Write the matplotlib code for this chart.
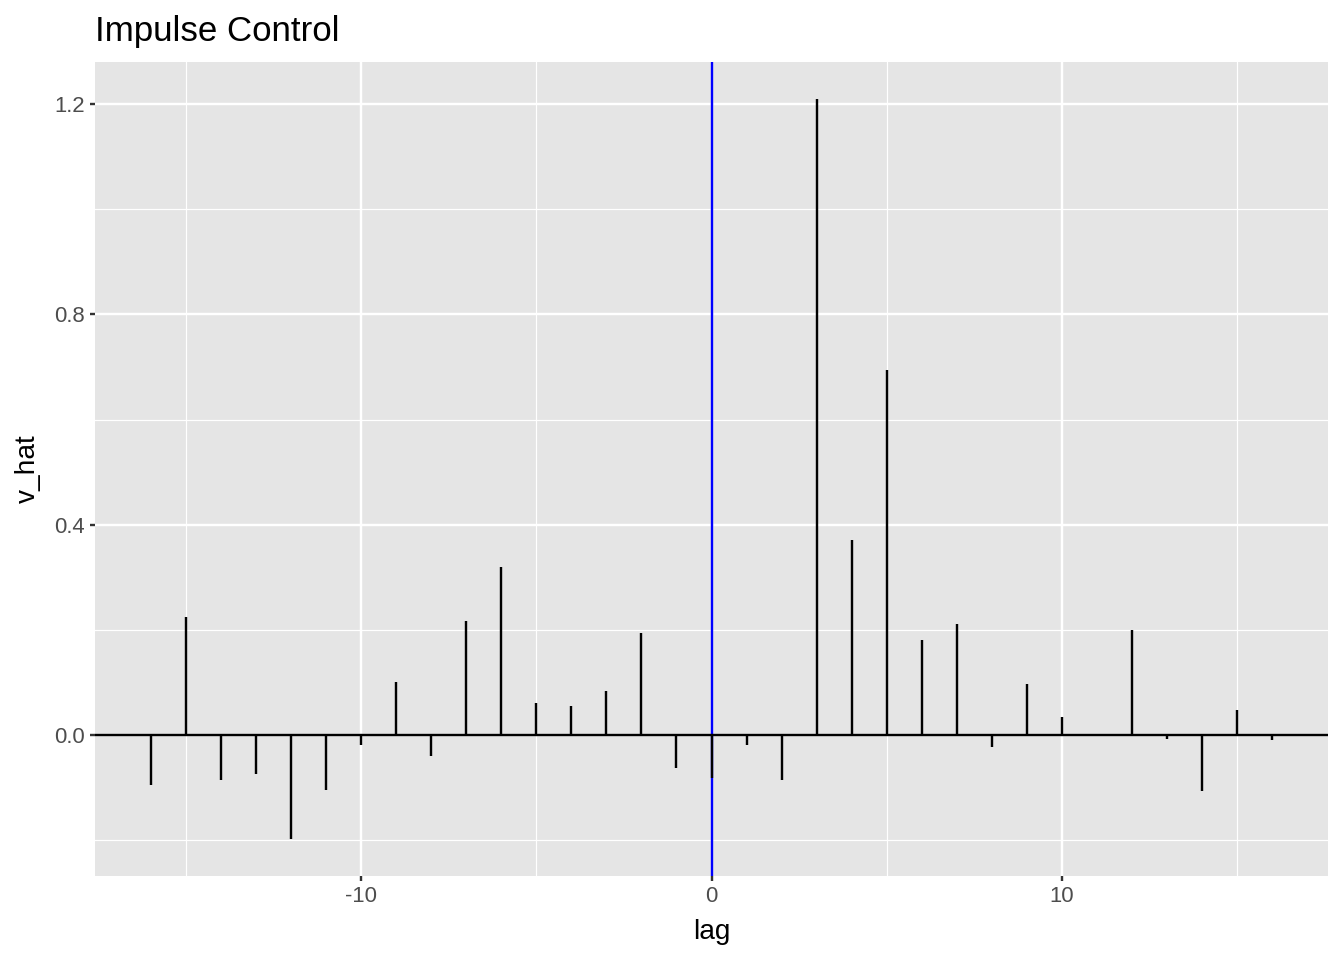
import matplotlib
matplotlib.use("Agg")
import matplotlib.pyplot as plt
from matplotlib.ticker import MultipleLocator

plt.rcParams['font.family'] = ['Liberation Sans', 'DejaVu Sans']

lags = list(range(-16, 17))
v_hat = [-0.095, 0.225, -0.086, -0.074, -0.198, -0.105, -0.019, 0.101, -0.040,
         0.217, 0.320, 0.061, 0.055, 0.084, 0.194, -0.063, -0.082, -0.019,
         -0.086, 1.210, 0.371, 0.695, 0.181, 0.211, -0.023, 0.097, 0.034,
         -0.002, 0.200, -0.007, -0.107, 0.048, -0.010]
title = "Impulse Control"
x_label = "lag"
y_label = "v_hat"
y_ticks = [0.0, 0.4, 0.8, 1.2]
y_tick_labels = ["0.0", "0.4", "0.8", "1.2"]
x_ticks = [-10, 0, 10]
x_tick_labels = ["-10", "0", "10"]

fig = plt.figure(figsize=(7, 5), dpi=192)
ax = fig.add_axes([95/1344, 1-876/960, (1328-95)/1344, (876-62)/960])
ax.set_facecolor('#E5E5E5')
for s in ax.spines.values():
    s.set_visible(False)

# limits with ggplot-style 5% expansion
xmin, xmax = min(lags), max(lags)
xr = xmax - xmin
ymin, ymax = min(v_hat), max(v_hat)
yr = ymax - ymin
ax.set_xlim(xmin - 0.05*xr, xmax + 0.05*xr)
ax.set_ylim(ymin - 0.05*yr, ymax + 0.05*yr)

ax.set_xticks(x_ticks)
ax.set_xticklabels(x_tick_labels)
ax.set_yticks(y_ticks)
ax.set_yticklabels(y_tick_labels)
ax.xaxis.set_minor_locator(MultipleLocator(5))
ax.yaxis.set_minor_locator(MultipleLocator(0.2))
ax.grid(which='major', color='white', linewidth=0.9)
ax.grid(which='minor', color='white', linewidth=0.45)
ax.set_axisbelow(True)
ax.tick_params(which='major', length=1.9, width=0.9, color='#333333',
               labelsize=8.3, labelcolor='#4D4D4D', pad=2)
ax.tick_params(which='minor', length=0)

ax.axvline(0, color='blue', linewidth=0.9, zorder=2)
ax.axhline(0, color='black', linewidth=0.9, zorder=3)
ax.vlines(lags, 0, v_hat, color='black', linewidth=0.9, zorder=4)

ax.set_xlabel(x_label, fontsize=10.5, labelpad=4.5)
ax.set_ylabel(y_label, fontsize=10.5, labelpad=5)
ax.set_title(title, loc='left', fontsize=13.1, pad=8)

fig.savefig("out.png", dpi=192)
